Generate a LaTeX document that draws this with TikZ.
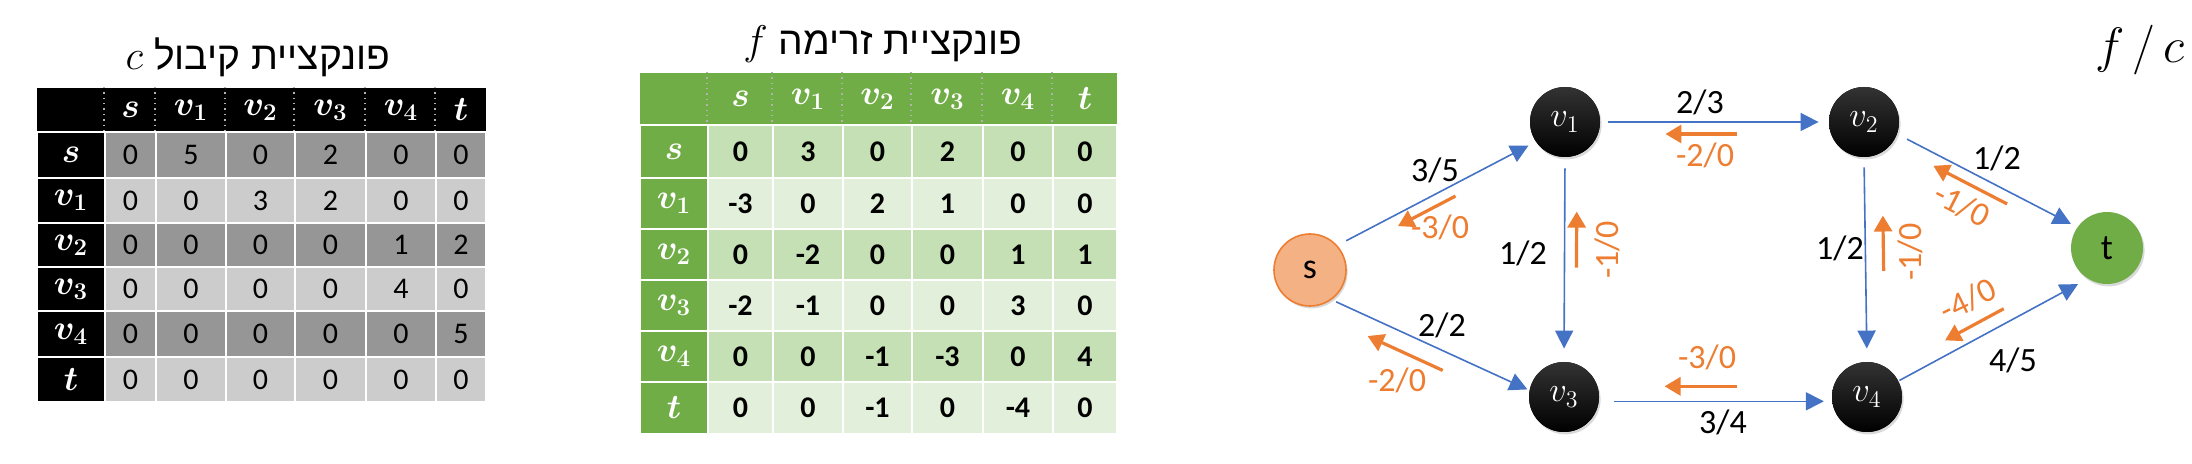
\documentclass[tikz,border=0pt]{standalone}
\usepackage{amsmath}
\usepackage{fontspec}
\setmainfont{Carlito}
\newfontfamily\hebfont[Script=Hebrew]{Liberation Sans}
\TeXXeTstate=1
\usetikzlibrary{arrows.meta,calc,shadows}

\definecolor{cdark}{HTML}{969696}
\definecolor{clight}{HTML}{CCCCCC}
\definecolor{fgreen}{HTML}{70AD47}
\definecolor{fdark}{HTML}{C5E0B4}
\definecolor{flight}{HTML}{E2EFDA}
\definecolor{eblue}{HTML}{4472C4}
\definecolor{eorange}{HTML}{ED7D31}
\definecolor{ssalmon}{HTML}{F4B183}

\tikzset{
cell/.style={draw=white, line width=1.2pt, inner sep=0pt, font=\fontsize{15}{16}\selectfont},
head/.style={cell, text=white, font=\fontsize{18}{18}\selectfont},
hsep/.style={gray!60, dotted, line width=0.7pt},
title/.style={font=\hebfont\fontsize{19.5}{20}\selectfont},
vertex/.style={circle, minimum size=35pt, inner sep=0pt, fill=black, text=white,
  font=\fontsize{18}{18}\selectfont,
  drop shadow={opacity=0.3, shadow xshift=0.8pt, shadow yshift=-1.2pt}},
dark/.style={vertex, top color=black!80, bottom color=black},
flow/.style={draw=eblue, line width=0.8pt, -{Triangle[length=9pt,width=9pt]}},
back/.style={draw=eorange, line width=1.6pt, -{Triangle[length=8pt,width=9pt]}},
lab/.style={font=\fontsize{17}{17}\selectfont},
blab/.style={lab, text=eorange}
}

\def\cxs{37,105,156,226,295,366,436,486}
\def\cys{88,132,178,223,267,311,357,402}
\def\fxs{640,708,773,843,912,983,1053,1117}
\def\fys{73,125,178,229,280,331,382,434}

\begin{document}
\begin{tikzpicture}[x=0.5pt, y=-0.5pt]
\useasboundingbox (0,0) rectangle (2192,464);

% capacity c
\node[title] (ctitle) at (258,57) {$c$ \beginR פונקציית קיבול\endR};
\foreach \h [count=\j from 0] in {{},s,v_1,v_2,v_3,v_4,t} {
  \pgfmathsetmacro\xa{{\cxs}[\j]}
  \pgfmathsetmacro\xb{{\cxs}[\j+1]}
  \node[head, draw=none, fill=black, minimum width={(\xb-\xa)*0.5pt}, minimum height=22pt]
    (c-0-\j) at ({(\xa+\xb)/2},110) {$\boldsymbol{\h}$};
}
\foreach \j in {1,...,6}
  \draw[hsep] (c-0-\j.north west) -- (c-0-\j.south west);
\foreach \r/\rc/\row [count=\i] in {s/cdark/{0,5,0,2,0,0}, v_1/clight/{0,0,3,2,0,0},
    v_2/cdark/{0,0,0,0,1,2}, v_3/clight/{0,0,0,0,4,0}, v_4/cdark/{0,0,0,0,0,5},
    t/clight/{0,0,0,0,0,0}} {
  \pgfmathsetmacro\ya{{\cys}[\i]}
  \pgfmathsetmacro\yb{{\cys}[\i+1]}
  \node[head, fill=black, minimum width=34pt, minimum height={(\yb-\ya)*0.5pt}]
    (c-\i-0) at (71,{(\ya+\yb)/2}) {$\boldsymbol{\r}$};
  \foreach \v [count=\j] in \row {
    \pgfmathsetmacro\xa{{\cxs}[\j]}
    \pgfmathsetmacro\xb{{\cxs}[\j+1]}
    \node[cell, fill=\rc, minimum width={(\xb-\xa)*0.5pt}, minimum height={(\yb-\ya)*0.5pt}]
      (c-\i-\j) at ({(\xa+\xb)/2},{(\ya+\yb)/2}) {\v};
  }
}

% flow f
\node[title] (ftitle) at (883,44) {$f$ \beginR פונקציית זרימה\endR};
\foreach \h [count=\j from 0] in {{},s,v_1,v_2,v_3,v_4,t} {
  \pgfmathsetmacro\xa{{\fxs}[\j]}
  \pgfmathsetmacro\xb{{\fxs}[\j+1]}
  \node[head, draw=none, fill=fgreen, minimum width={(\xb-\xa)*0.5pt}, minimum height=26pt]
    (f-0-\j) at ({(\xa+\xb)/2},99) {$\boldsymbol{\h}$};
}
\foreach \j in {1,...,6}
  \draw[hsep] (f-0-\j.north west) -- (f-0-\j.south west);
\foreach \r/\rc/\row [count=\i] in {s/fdark/{0,3,0,2,0,0}, v_1/flight/{-3,0,2,1,0,0},
    v_2/fdark/{0,-2,0,0,1,1}, v_3/flight/{-2,-1,0,0,3,0}, v_4/fdark/{0,0,-1,-3,0,4},
    t/flight/{0,0,-1,0,-4,0}} {
  \pgfmathsetmacro\ya{{\fys}[\i]}
  \pgfmathsetmacro\yb{{\fys}[\i+1]}
  \node[head, fill=fgreen, minimum width=34pt, minimum height={(\yb-\ya)*0.5pt}]
    (f-\i-0) at (674,{(\ya+\yb)/2}) {$\boldsymbol{\r}$};
  \foreach \v [count=\j] in \row {
    \pgfmathsetmacro\xa{{\fxs}[\j]}
    \pgfmathsetmacro\xb{{\fxs}[\j+1]}
    \node[cell, fill=\rc, minimum width={(\xb-\xa)*0.5pt}, minimum height={(\yb-\ya)*0.5pt}]
      (f-\i-\j) at ({(\xa+\xb)/2},{(\ya+\yb)/2}) {\bfseries\v};
  }
}

% network
\node[vertex, fill=ssalmon, draw=eorange, line width=0.8pt, text=black, minimum size=36pt] (s) at (1310,270) {s};
\node[dark] (v1) at (1565,122) {$v_1$};
\node[dark] (v2) at (1864,122) {$v_2$};
\node[dark] (v3) at (1564,397) {$v_3$};
\node[dark] (v4) at (1867,397) {$v_4$};
\node[vertex, fill=fgreen, text=black, minimum size=36pt] (t) at (2107,248) {t};
\node[font=\fontsize{24}{24}\selectfont] (fc) at (2140,50) {$f\,/\,c$};

\foreach \a/\b/\sa/\sb in {s.42/v1.214/5pt/4pt, s.-54/v3.169/2.5pt/1pt,
    v1.south/v3.north/5.5pt/6.5pt, v1.east/v2.west/4pt/5pt, v3.-7/v4.187/7.5pt/4pt,
    v2.south/v4.north/5pt/6.5pt, v2.-20/t.145/5.5pt/3.5pt, v4.27/t.238/0.5pt/5.5pt}
  \draw[flow, shorten <=\sa, shorten >=\sb] (\a) -- (\b);

\foreach \a/\b/\p/\q/\o in {v1.214/s.42/0.43/0.72/5.5pt, v3.169/s.-54/0.40/0.78/9pt,
    v3.north/v1.south/0.46/0.735/-6pt, v2.west/v1.east/0.40/0.715/6pt,
    v4.187/v3.-7/0.407/0.719/-7.5pt, v4.north/v2.south/0.443/0.714/-9pt,
    t.145/v2.-20/0.36/0.77/5.8pt, t.238/v4.27/0.41/0.72/-6.8pt}
  \draw[back] ($(\a)!\p!(\b)!\o!90:(\b)$) -- ($(\a)!\q!(\b)!\o!90:(\b)$);

\node[lab] (l-sv1) at (1435,170) {3/5};
\node[lab] (l-sv3) at (1442,325) {2/2};
\node[lab] (l-v1v3) at (1523,253) {1/2};
\node[lab] (l-v1v2) at (1700,102) {2/3};
\node[lab] (l-v3v4) at (1723,422) {3/4};
\node[lab] (l-v2v4) at (1840,248) {1/2};
\node[lab] (l-v2t) at (1997,158) {1/2};
\node[lab] (l-v4t) at (2013,360) {4/5};

\node[blab] (b-sv1) at (1440,227) {-3/0};
\node[blab] (b-sv3) at (1397,380) {-2/0};
\node[blab, rotate=90] (b-v1v3) at (1607,250) {-1/0};
\node[blab] (b-v1v2) at (1705,155) {-2/0};
\node[blab] (b-v3v4) at (1707,357) {-3/0};
\node[blab, rotate=90] (b-v2v4) at (1910,252) {-1/0};
\node[blab, rotate=-27] (b-v2t) at (1962,205) {-1/0};
\node[blab, rotate=26] (b-v4t) at (1968,300) {-4/0};
\end{tikzpicture}
\end{document}
